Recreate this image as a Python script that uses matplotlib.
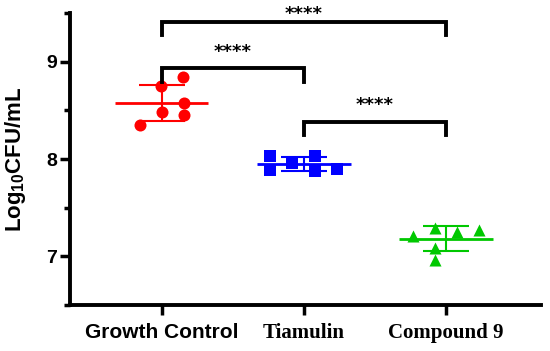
import numpy as np
import matplotlib

matplotlib.use("Agg")

import matplotlib.pyplot as plt
from matplotlib.ticker import MultipleLocator


# groups and their values (log10 CFU/mL)
groups = ["Growth Control", "Tiamulin", "Compound 9"]
growth_control = [8.84, 8.75, 8.58, 8.48, 8.45, 8.35]
tiamulin = [8.03, 7.89, 7.96, 8.03, 7.88, 7.90]
compound_9 = [7.21, 7.29, 7.09, 6.96, 7.25, 7.27]
all_values = [growth_control, tiamulin, compound_9]

# significance brackets: (group a, group b, bracket height, label)
bracket_pairs = [(0, 2), (0, 1), (1, 2)]
bracket_heights = [9.41, 8.93, 8.38]
bracket_labels = ["****", "****", "****"]

# layout of the points inside each group (swarm columns)
point_offsets = [
    [0.15, -0.005, 0.16, 0.0, 0.16, -0.155],
    [-0.235, -0.235, -0.08, 0.08, 0.08, 0.235],
    [-0.235, -0.08, -0.08, -0.08, 0.08, 0.235],
]
# gap between each bracket and its stars (top one is squeezed)
label_gaps = [-0.01, 0.08, 0.08]
colors = ["#ff0000", "#0000ff", "#00c800"]
markers = ["o", "s", "^"]

plt.rcParams["mathtext.fontset"] = "custom"
plt.rcParams["mathtext.rm"] = "Liberation Sans:bold"

fig = plt.figure(figsize=(5.5, 3.51), dpi=100)
ax = fig.add_axes([0.127, 0.131, 0.857, 0.832])

for i, values in enumerate(all_values):
    values = np.array(values)
    xs = i + np.array(point_offsets[i])
    ax.scatter(xs, values, s=75, marker=markers[i], color=colors[i],
               linewidths=0, zorder=3)
    mean = values.mean()
    sd = values.std(ddof=1)
    ax.hlines(mean, i - 0.33, i + 0.33, color=colors[i], linewidth=2, zorder=4)
    ax.errorbar(i, mean, yerr=sd, fmt="none", ecolor=colors[i],
                elinewidth=1.5, capsize=16.5, capthick=1.5, zorder=4)

for (a, b), h, lab, gap in zip(bracket_pairs, bracket_heights,
                               bracket_labels, label_gaps):
    drop = 0.135
    ax.plot([a, a, b, b], [h - drop, h, h, h - drop], color="black",
            linewidth=2.8, solid_joinstyle="miter", clip_on=False, zorder=5)
    ax.text((a + b) / 2, h + gap, lab, ha="center", va="bottom",
            fontsize=13, fontweight="bold", family="DejaVu Sans",
            clip_on=False)

ax.set_xlim(-0.645, 2.67)
ax.set_ylim(6.5, 9.5)
ax.yaxis.set_major_locator(MultipleLocator(1))
ax.yaxis.set_minor_locator(MultipleLocator(0.5))

ax.set_xticks(range(len(groups)))
ax.set_xticklabels(groups)
label_fonts = ["Liberation Sans", "Liberation Serif", "Liberation Serif"]
for tick_label, fam in zip(ax.get_xticklabels(), label_fonts):
    tick_label.set_family(fam)
    tick_label.set_fontweight("bold")
    tick_label.set_fontsize(15)

for tick_label in ax.get_yticklabels():
    tick_label.set_family("Liberation Sans")
    tick_label.set_fontweight("bold")
    tick_label.set_fontsize(14)

ax.set_ylabel("Log$_{\\mathrm{10}}$CFU/mL", fontsize=16, fontweight="bold",
              family="Liberation Sans", labelpad=13)

ax.spines["top"].set_visible(False)
ax.spines["right"].set_visible(False)
ax.spines["left"].set_linewidth(2.8)
ax.spines["bottom"].set_linewidth(2.8)
ax.tick_params(axis="both", which="major", length=7, width=2.5, pad=2)
ax.tick_params(axis="y", which="minor", length=4, width=2.5)
ax.tick_params(axis="x", pad=6)

fig.savefig("out.png", dpi=100)
plt.close(fig)
